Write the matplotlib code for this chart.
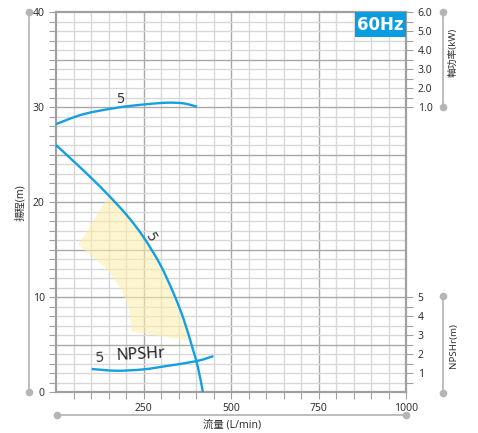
import numpy as np
import matplotlib.pyplot as plt
from matplotlib.lines import Line2D
from matplotlib.patches import Polygon, Rectangle, PathPatch
from matplotlib.path import Path

plt.rcParams['font.family'] = ['Noto Sans', 'Noto Sans CJK TC', 'DejaVu Sans']

# axis labels / ticks
flow_ticks = [250, 500, 750, 1000]
head_ticks = [0, 10, 20, 30, 40]
kw_ticks = [1.0, 2.0, 3.0, 4.0, 5.0, 6.0]
npsh_ticks = [1, 2, 3, 4, 5]

# head curve (L/min, m)
head_q = [0, 49, 102, 149, 202, 249, 297, 335, 364, 392, 406, 419]
head_h = [26.0, 24.33, 22.48, 20.74, 18.61, 16.34, 13.43, 10.42, 7.68, 4.32, 2.42, 0.0]

# shaft power (L/min, kW)
power_q = [0, 78, 173, 249, 316, 364, 402]
power_kw = [0.1, 0.62, 0.96, 1.13, 1.225, 1.19, 1.02]

# NPSHr (L/min, m)
npsh_q = [102, 173, 249, 316, 402, 449]
npsh_m = [1.21, 1.12, 1.19, 1.37, 1.63, 1.89]

# recommended operating zone outline (L/min, m)
zone_q = [149, 64, 102, 149, 188, 207, 216, 383, 360, 330, 295, 249, 200]
zone_h = [20.6, 15.5, 14.3, 12.8, 10.7, 9.0, 6.35, 5.4, 7.6, 10.6, 13.3, 16.2, 18.5]

W, H = 478, 433
blue = '#139fe0'
grid_light = '#d8d8d8'
grid_dark = '#a9a9a9'
deco = '#bdbdbd'
txt = '#333333'


def smooth(xs, ys):
    # catmull-rom through the read points, drawn as bezier segments
    p = np.column_stack([xs, ys]).astype(float)
    verts, codes = [p[0]], [Path.MOVETO]
    for i in range(len(p) - 1):
        p0 = p[i - 1] if i > 0 else p[i]
        p3 = p[i + 2] if i + 2 < len(p) else p[i + 1]
        verts += [p[i] + (p[i + 1] - p0) / 6, p[i + 1] - (p3 - p[i]) / 6, p[i + 1]]
        codes += [Path.CURVE4] * 3
    return PathPatch(Path(verts, codes), fill=False, ec=blue, lw=1.7, zorder=3)


fig = plt.figure(figsize=(W / 100, H / 100), dpi=100)
ax = fig.add_axes([56 / W, 41 / H, 350.5 / W, 380 / H])
ax.set_xlim(0, 1000)
ax.set_ylim(0, 40)

# grid
for q in range(50, 1000, 50):
    ax.axvline(q, color=grid_dark if q % 250 == 0 else grid_light, lw=1, zorder=0)
for h in range(1, 40):
    ax.axhline(h, color=grid_dark if h % 5 == 0 else grid_light, lw=1, zorder=0)

for s in ax.spines.values():
    s.set_color('#a0a0a0')
    s.set_linewidth(1.6)

ax.set_xticks(flow_ticks)
ax.set_xticks(np.arange(50, 1000, 50), minor=True)
ax.set_yticks(head_ticks)
ax.set_yticks(np.arange(1, 40, 1), minor=True)
ax.tick_params(which='both', direction='out', length=5, width=0.8, color='#a0a0a0',
               labelsize=7.5, labelcolor=txt, pad=3)

# operating zone
ax.add_patch(Polygon(np.column_stack([zone_q, zone_h]), closed=True,
                     fc='#fbeea8', ec='none', alpha=0.55, zorder=1))

ax.add_patch(smooth(head_q, head_h))

# power axis
ax_kw = ax.twinx()
ax_kw.add_patch(smooth(power_q, power_kw))
ax_kw.set_ylim(-14, 6)
ax_kw.set_yticks(kw_ticks)
ax_kw.set_yticklabels([f'{v:.1f}' for v in kw_ticks])
ax_kw.set_yticks(np.arange(1.5, 6.0, 0.5), minor=True)

# NPSH axis
ax_np = ax.twinx()
ax_np.add_patch(smooth(npsh_q, npsh_m))
ax_np.set_ylim(0, 20)
ax_np.set_yticks(npsh_ticks)
ax_np.set_yticks(np.arange(0.5, 5.0, 0.5), minor=True)

for a in (ax_kw, ax_np):
    a.set_xlim(0, 1000)
    for s in a.spines.values():
        s.set_visible(False)
    a.tick_params(which='both', direction='out', length=5, width=0.8, color='#a0a0a0',
                  labelsize=7.5, labelcolor=txt, pad=3)

# curve labels
ax.text(269, 16.4, '5', fontsize=10, color=txt, rotation=-60, ha='center', va='center', zorder=4)
ax.text(183, 30.8, '5', fontsize=10, color=txt, ha='center', va='center', zorder=4)
ax.text(123, 3.6, '5', fontsize=10.5, color=txt, ha='center', va='center', rotation=3, zorder=4)
ax.text(243, 3.95, 'NPSHr', fontsize=11.5, color='#222222', ha='center', va='center',
        rotation=3, zorder=4)

# frequency badge
ax.add_patch(Rectangle((0.853, 0.934), 0.147, 0.066, transform=ax.transAxes,
                       fc='#0a9de0', ec='none', zorder=5))
ax.text(0.9265, 0.967, '60Hz', transform=ax.transAxes, color='white', fontsize=12,
        fontweight='bold', family=['DejaVu Sans'], ha='center', va='center', zorder=6)


def px(x, y):
    return x / W, 1 - y / H


def deco_line(x0, y0, x1, y1):
    a, b = px(x0, y0)
    c, d = px(x1, y1)
    fig.add_artist(Line2D([a, c], [b, d], transform=fig.transFigure, color=deco, lw=1.4,
                          marker='o', markersize=4.5, markerfacecolor='#b5b5b5',
                          markeredgecolor='#b5b5b5'))


deco_line(29, 12, 29, 392)
deco_line(442.5, 12, 442.5, 107)
deco_line(442.5, 296, 442.5, 393)
deco_line(57, 415, 406, 415)

fig.text(*px(21, 203), '揚程(m)', rotation=90, ha='center', va='center', fontsize=7.5, color=txt)
fig.text(*px(453, 52), '軸功率(kW)', rotation=90, ha='center', va='center', fontsize=7, color=txt)
fig.text(*px(453, 346), 'NPSHr(m)', rotation=90, ha='center', va='center', fontsize=7, color=txt)
fig.text(*px(232, 425), '流量 (L/min)', ha='center', va='center', fontsize=7.5, color=txt)

fig.savefig('out.png', dpi=100)
